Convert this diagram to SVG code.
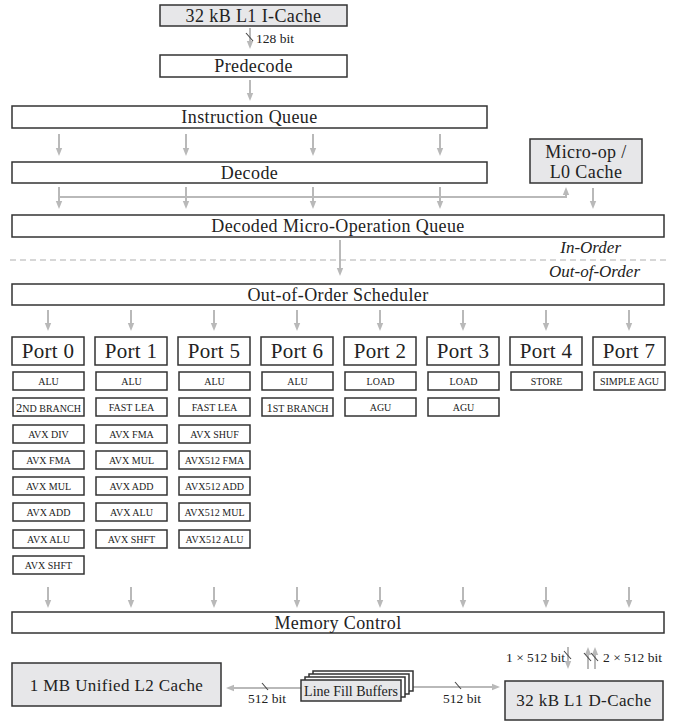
<svg xmlns="http://www.w3.org/2000/svg" width="674" height="726" viewBox="0 0 674 726">
<style>
text{font-family:"Liberation Serif","DejaVu Serif",serif;fill:#222;text-anchor:middle}
.b{fill:#fff;stroke:#333;stroke-width:1.5}
.g{fill:#e7e7e9;stroke:#333;stroke-width:1.5}
.L{font-size:18px;letter-spacing:.4px}
.P{font-size:21px;letter-spacing:.3px}
.s{font-size:10px}
.d{font-size:12.5px}
.lab{font-size:13.5px;text-anchor:start}
.it{font-size:17px;font-style:italic;text-anchor:end}
.a{stroke:#b9b9b9;stroke-width:2;fill:none;marker-end:url(#ah)}
.sl{stroke:#444;stroke-width:1.1}
</style>
<defs>
<marker id="ah" viewBox="0 0 8 8" refX="3" refY="4" markerWidth="8" markerHeight="8" orient="auto" markerUnits="userSpaceOnUse">
<path d="M0,0.8 L8,4 L0,7.2 z" fill="#b9b9b9"/>
</marker>
</defs>

<g id="connectors">
<line class="a" x1="250" y1="28" x2="250" y2="44"/>
<line class="sl" x1="246" y1="33" x2="253" y2="41"/>
<line class="a" x1="250" y1="80" x2="250" y2="96"/>
<line class="a" x1="59" y1="134" x2="59" y2="151"/>
<line class="a" x1="186" y1="134" x2="186" y2="151"/>
<line class="a" x1="313" y1="134" x2="313" y2="151"/>
<line class="a" x1="440" y1="134" x2="440" y2="151"/>
<line class="a" x1="59" y1="187" x2="59" y2="204"/>
<line class="a" x1="186" y1="187" x2="186" y2="204"/>
<line class="a" x1="313" y1="187" x2="313" y2="204"/>
<line class="a" x1="440" y1="187" x2="440" y2="204"/>
<polyline class="a" points="59,197 566,197 566,192"/>
<line class="a" x1="593" y1="188" x2="593" y2="204"/>
<line class="a" x1="340" y1="240" x2="340" y2="271"/>
<line class="a" x1="48" y1="310" x2="48" y2="326"/>
<line class="a" x1="131" y1="310" x2="131" y2="326"/>
<line class="a" x1="214" y1="310" x2="214" y2="326"/>
<line class="a" x1="297" y1="310" x2="297" y2="326"/>
<line class="a" x1="380" y1="310" x2="380" y2="326"/>
<line class="a" x1="463" y1="310" x2="463" y2="326"/>
<line class="a" x1="546" y1="310" x2="546" y2="326"/>
<line class="a" x1="629" y1="310" x2="629" y2="326"/>
<line class="a" x1="48" y1="587" x2="48" y2="603"/>
<line class="a" x1="131" y1="587" x2="131" y2="603"/>
<line class="a" x1="214" y1="587" x2="214" y2="603"/>
<line class="a" x1="297" y1="587" x2="297" y2="603"/>
<line class="a" x1="380" y1="587" x2="380" y2="603"/>
<line class="a" x1="463" y1="587" x2="463" y2="603"/>
<line class="a" x1="546" y1="587" x2="546" y2="603"/>
<line class="a" x1="629" y1="587" x2="629" y2="603"/>
<line class="a" x1="301" y1="688" x2="231" y2="688"/>
<line class="sl" x1="262" y1="683" x2="268" y2="690"/>
<line class="a" x1="413" y1="687" x2="495" y2="687"/>
<line class="sl" x1="455" y1="682" x2="461" y2="689"/>
<line class="a" x1="568" y1="647" x2="568" y2="664"/>
<line class="sl" x1="564" y1="651" x2="571" y2="659"/>
<line class="a" x1="588" y1="669" x2="588" y2="652"/>
<line class="a" x1="595" y1="669" x2="595" y2="652"/>
<line class="sl" x1="584" y1="653" x2="591" y2="661"/>
<line class="sl" x1="591" y1="653" x2="598" y2="661"/>
<line x1="10" y1="260" x2="666" y2="260" stroke="#b0b0b0" stroke-width="1.2" stroke-dasharray="6 4"/>
</g>

<text class="lab" x="256" y="43">128 bit</text>
<text class="it" x="621" y="253">In-Order</text>
<text class="it" x="640" y="277">Out-of-Order</text>
<text class="lab" x="248" y="703">512 bit</text>
<text class="lab" x="443" y="703">512 bit</text>
<text class="lab" x="506" y="662">1 × 512 bit</text>
<text class="lab" x="603" y="662">2 × 512 bit</text>

<g id="icache"><rect class="g" x="160" y="5" width="187" height="21"/><text class="L" x="253.5" y="21.5">32 kB L1 I-Cache</text></g>
<g id="predecode"><rect class="b" x="160" y="55" width="187" height="22"/><text class="L" x="253.5" y="72">Predecode</text></g>
<g id="iqueue"><rect class="b" x="12" y="106" width="475" height="22"/><text class="L" x="249.5" y="123">Instruction Queue</text></g>
<g id="decode"><rect class="b" x="12" y="162" width="475" height="21"/><text class="L" x="249.5" y="178.5">Decode</text></g>
<g id="uopcache"><rect class="g" x="530" y="139" width="112" height="44"/><text class="L" x="586" y="157.5">Micro-op /</text><text class="L" x="586" y="177.5">L0 Cache</text></g>
<g id="uopqueue"><rect class="b" x="12" y="215" width="652" height="22"/><text class="L" x="338" y="232">Decoded Micro-Operation Queue</text></g>
<g id="scheduler"><rect class="b" x="12" y="284" width="652" height="21"/><text class="L" x="338" y="300.5">Out-of-Order Scheduler</text></g>

<g id="port0"><rect class="b" x="12" y="337" width="72" height="28"/><text class="P" x="48" y="358">Port 0</text></g>
<g id="port1"><rect class="b" x="95" y="337" width="72" height="28"/><text class="P" x="131" y="358">Port 1</text></g>
<g id="port5"><rect class="b" x="178" y="337" width="72" height="28"/><text class="P" x="214" y="358">Port 5</text></g>
<g id="port6"><rect class="b" x="261" y="337" width="72" height="28"/><text class="P" x="297" y="358">Port 6</text></g>
<g id="port2"><rect class="b" x="344" y="337" width="72" height="28"/><text class="P" x="380" y="358">Port 2</text></g>
<g id="port3"><rect class="b" x="427" y="337" width="72" height="28"/><text class="P" x="463" y="358">Port 3</text></g>
<g id="port4"><rect class="b" x="510" y="337" width="72" height="28"/><text class="P" x="546" y="358">Port 4</text></g>
<g id="port7"><rect class="b" x="593" y="337" width="72" height="28"/><text class="P" x="629" y="358">Port 7</text></g>

<g id="p0u0"><rect class="b" x="13" y="372" width="71" height="18"/><text class="s" x="48.5" y="385">ALU</text></g>
<g id="p0u1"><rect class="b" x="13" y="398" width="71" height="18"/><text class="s" x="48.5" y="411.5"><tspan class="d">2</tspan>ND BRANCH</text></g>
<g id="p0u2"><rect class="b" x="13" y="425" width="71" height="18"/><text class="s" x="48.5" y="438">AVX DIV</text></g>
<g id="p0u3"><rect class="b" x="13" y="451" width="71" height="18"/><text class="s" x="48.5" y="464">AVX FMA</text></g>
<g id="p0u4"><rect class="b" x="13" y="477" width="71" height="18"/><text class="s" x="48.5" y="490">AVX MUL</text></g>
<g id="p0u5"><rect class="b" x="13" y="503" width="71" height="18"/><text class="s" x="48.5" y="516">AVX ADD</text></g>
<g id="p0u6"><rect class="b" x="13" y="530" width="71" height="18"/><text class="s" x="48.5" y="543">AVX ALU</text></g>
<g id="p0u7"><rect class="b" x="13" y="556" width="71" height="18"/><text class="s" x="48.5" y="569">AVX SHFT</text></g>

<g id="p1u0"><rect class="b" x="96" y="372" width="71" height="18"/><text class="s" x="131.5" y="385">ALU</text></g>
<g id="p1u1"><rect class="b" x="96" y="398" width="71" height="18"/><text class="s" x="131.5" y="411">FAST LEA</text></g>
<g id="p1u2"><rect class="b" x="96" y="425" width="71" height="18"/><text class="s" x="131.5" y="438">AVX FMA</text></g>
<g id="p1u3"><rect class="b" x="96" y="451" width="71" height="18"/><text class="s" x="131.5" y="464">AVX MUL</text></g>
<g id="p1u4"><rect class="b" x="96" y="477" width="71" height="18"/><text class="s" x="131.5" y="490">AVX ADD</text></g>
<g id="p1u5"><rect class="b" x="96" y="503" width="71" height="18"/><text class="s" x="131.5" y="516">AVX ALU</text></g>
<g id="p1u6"><rect class="b" x="96" y="530" width="71" height="18"/><text class="s" x="131.5" y="543">AVX SHFT</text></g>

<g id="p5u0"><rect class="b" x="179" y="372" width="71" height="18"/><text class="s" x="214.5" y="385">ALU</text></g>
<g id="p5u1"><rect class="b" x="179" y="398" width="71" height="18"/><text class="s" x="214.5" y="411">FAST LEA</text></g>
<g id="p5u2"><rect class="b" x="179" y="425" width="71" height="18"/><text class="s" x="214.5" y="438">AVX SHUF</text></g>
<g id="p5u3"><rect class="b" x="179" y="451" width="71" height="18"/><text class="s" x="214.5" y="464">AVX512 FMA</text></g>
<g id="p5u4"><rect class="b" x="179" y="477" width="71" height="18"/><text class="s" x="214.5" y="490">AVX512 ADD</text></g>
<g id="p5u5"><rect class="b" x="179" y="503" width="71" height="18"/><text class="s" x="214.5" y="516">AVX512 MUL</text></g>
<g id="p5u6"><rect class="b" x="179" y="530" width="71" height="18"/><text class="s" x="214.5" y="543">AVX512 ALU</text></g>

<g id="p6u0"><rect class="b" x="262" y="372" width="71" height="18"/><text class="s" x="297.5" y="385">ALU</text></g>
<g id="p6u1"><rect class="b" x="262" y="398" width="71" height="18"/><text class="s" x="297.5" y="411.5"><tspan class="d">1</tspan>ST BRANCH</text></g>

<g id="p2u0"><rect class="b" x="345" y="372" width="71" height="18"/><text class="s" x="380.5" y="385">LOAD</text></g>
<g id="p2u1"><rect class="b" x="345" y="398" width="71" height="18"/><text class="s" x="380.5" y="411">AGU</text></g>
<g id="p3u0"><rect class="b" x="428" y="372" width="71" height="18"/><text class="s" x="463.5" y="385">LOAD</text></g>
<g id="p3u1"><rect class="b" x="428" y="398" width="71" height="18"/><text class="s" x="463.5" y="411">AGU</text></g>
<g id="p4u0"><rect class="b" x="511" y="372" width="71" height="18"/><text class="s" x="546.5" y="385">STORE</text></g>
<g id="p7u0"><rect class="b" x="594" y="372" width="71" height="18"/><text class="s" x="629.5" y="385">SIMPLE AGU</text></g>

<g id="memctrl"><rect class="b" x="12" y="612" width="652" height="21"/><text class="L" x="338" y="628.5">Memory Control</text></g>
<g id="l2"><rect class="g" x="12" y="663" width="209" height="43"/><text class="L" x="116.5" y="690.5" style="font-size:17px">1 MB Unified L2 Cache</text></g>
<g id="lfb">
<rect class="b" x="313" y="671" width="100" height="20"/>
<rect class="b" x="309" y="674" width="100" height="20"/>
<rect class="b" x="305" y="677" width="100" height="20"/>
<rect class="g" x="301" y="680" width="100" height="21"/>
<text x="351" y="696" style="font-size:14px">Line Fill Buffers</text>
</g>
<g id="l1d"><rect class="g" x="505" y="681" width="158" height="39"/><text class="L" x="584" y="706" style="font-size:17px">32 kB L1 D-Cache</text></g>
</svg>
